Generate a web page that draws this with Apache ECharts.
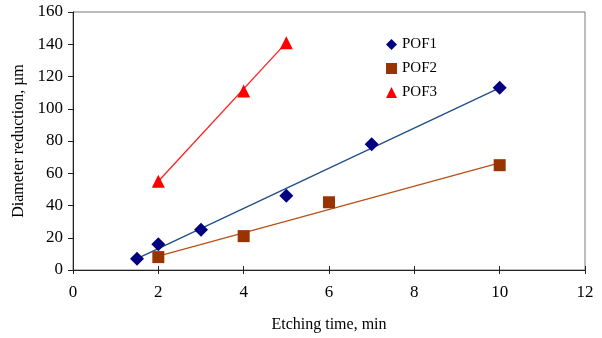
<!DOCTYPE html>
<html><head><meta charset="utf-8">
<script src="https://cdn.jsdelivr.net/npm/echarts@6/dist/echarts.min.js"></script>
<style>html,body{margin:0;padding:0;background:#fff}#c{width:602px;height:338px}</style>
</head><body><div id="c"></div>
<script>
var seriesNames = ['POF1', 'POF2', 'POF3'];
var pof1X = [1.5, 2, 3, 5, 7, 10];
var pof1Y = [7, 16, 25, 46, 78, 113];
var pof2X = [2, 4, 6, 10];
var pof2Y = [8, 21, 42, 65];
var pof3X = [2, 4, 5];
var pof3Y = [55, 111, 141];
// trend lines (start / end)
var trend1X = [1.5, 10], trend1Y = [7, 113];
var trend2X = [2, 10], trend2Y = [8.6, 66.5];
var trend3X = [2, 5], trend3Y = [55, 141];
var xTicks = [0, 2, 4, 6, 8, 10, 12];
var yTicks = [0, 20, 40, 60, 80, 100, 120, 140, 160];

function pairs(xs, ys) { return xs.map(function (x, i) { return [x, ys[i]]; }); }
var font = 'Liberation Serif';
var chart = echarts.init(document.getElementById('c'), null, {renderer: 'canvas'});
var xCommon = {
  type: 'value', min: xTicks[0], max: xTicks[xTicks.length - 1], interval: 2,
  splitLine: {show: false},
  axisLine: {lineStyle: {color: '#222', width: 1}}
};
chart.setOption({
  animation: false,
  grid: {left: 73, right: 17, top: 12, bottom: 68, show: true, borderColor: '#7a7a7a', borderWidth: 1},
  legend: {
    left: 381, top: 32, orient: 'vertical', itemGap: 9, itemWidth: 11, itemHeight: 11,
    textStyle: {fontFamily: font, fontSize: 15, lineHeight: 15, color: '#000'},
    data: [
      {name: 'POF1', icon: 'diamond'},
      {name: 'POF2', icon: 'rect'},
      {name: 'POF3', icon: 'triangle'}
    ]
  },
  xAxis: [
    Object.assign({}, xCommon, {
      name: 'Etching time, min', nameLocation: 'middle', nameGap: 47,
      nameTextStyle: {fontFamily: font, fontSize: 16, color: '#000'},
      axisTick: {show: true, inside: false, length: 4, lineStyle: {color: '#222'}},
      axisLabel: {fontFamily: font, fontSize: 17, color: '#000', margin: 14}
    }),
    Object.assign({}, xCommon, {
      position: 'bottom', offset: 0,
      axisTick: {show: true, inside: true, length: 4, lineStyle: {color: '#222'}},
      axisLabel: {show: false}
    })
  ],
  yAxis: {
    type: 'value', min: 0, max: 160, interval: 20,
    name: 'Diameter reduction, µm', nameLocation: 'middle', nameGap: 46,
    nameTextStyle: {fontFamily: font, fontSize: 16, color: '#000'},
    splitLine: {show: false},
    axisLine: {show: true, lineStyle: {color: '#222', width: 1}},
    axisTick: {show: true, length: 5, lineStyle: {color: '#222'}},
    axisLabel: {fontFamily: font, fontSize: 17, color: '#000', margin: 10}
  },
  series: [
    {name: 'trend1', type: 'line', data: pairs(trend1X, trend1Y), symbol: 'none', silent: true,
     lineStyle: {color: '#1f4f86', width: 1.3}, z: 1},
    {name: 'trend2', type: 'line', data: pairs(trend2X, trend2Y), symbol: 'none', silent: true,
     lineStyle: {color: '#b8501a', width: 1.3}, z: 1},
    {name: 'trend3', type: 'line', data: pairs(trend3X, trend3Y), symbol: 'none', silent: true,
     lineStyle: {color: '#ff2020', width: 1.3}, z: 1},
    {name: seriesNames[0], type: 'scatter', data: pairs(pof1X, pof1Y), symbol: 'diamond', symbolSize: 14,
     itemStyle: {color: '#000080', opacity: 1}, z: 3},
    {name: seriesNames[1], type: 'scatter', data: pairs(pof2X, pof2Y), symbol: 'rect', symbolSize: 12,
     itemStyle: {color: '#993300', opacity: 1}, z: 3},
    {name: seriesNames[2], type: 'scatter', data: pairs(pof3X, pof3Y), symbol: 'triangle', symbolSize: 13,
     itemStyle: {color: '#ff0000', opacity: 1}, z: 3}
  ]
});
</script></body></html>
